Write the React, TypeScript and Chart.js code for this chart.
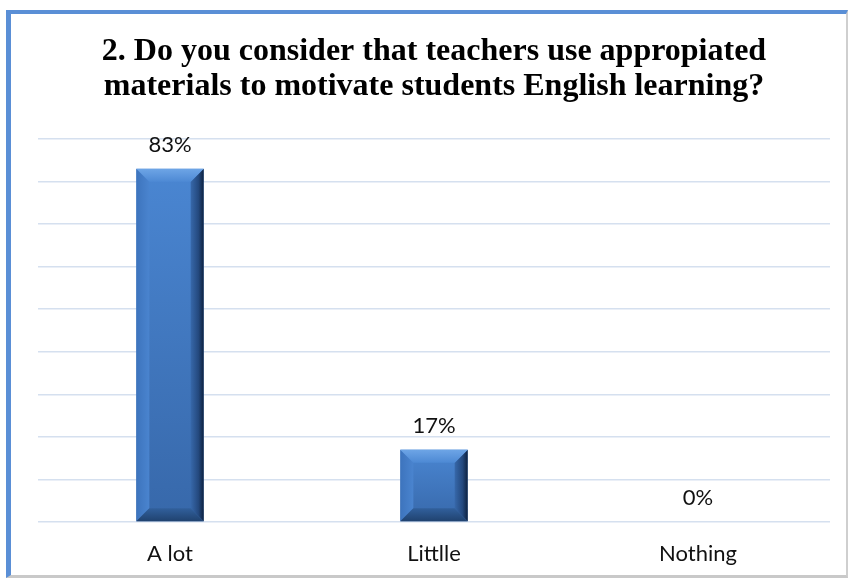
import React, { useEffect, useRef } from "react";
import { Chart, registerables } from "chart.js";

Chart.register(...registerables);

const titleLines = [
  "2. Do you consider that teachers use appropiated",
  "materials to motivate students English learning?",
];
const categories = ["A lot", "Littlle", "Nothing"];
const values = [83, 17, 0];
const valueLabels = ["83%", "17%", "0%"];
const axisMax = 90;
const axisStep = 10;

const bevelPlugin = {
  id: "bevelBars",
  afterDatasetsDraw(chart: any) {
    const ctx = chart.ctx;
    const meta = chart.getDatasetMeta(0);
    meta.data.forEach((bar: any, i: number) => {
      const l = bar.x - bar.width / 2;
      const r = bar.x + bar.width / 2;
      const t = bar.y;
      const bot = bar.base;
      const h = bot - t;
      if (h > 1) {
        const b = Math.min(13, h / 2, bar.width / 2);
        ctx.save();
        // body
        let g = ctx.createLinearGradient(0, t, 0, bot);
        g.addColorStop(0, "#4a86d2");
        g.addColorStop(1, "#3768aa");
        ctx.fillStyle = g;
        ctx.fillRect(l, t, r - l, h);
        // left bevel
        g = ctx.createLinearGradient(l, 0, l + b, 0);
        g.addColorStop(0, "#3d74bd");
        g.addColorStop(1, "#4a84cf");
        ctx.fillStyle = g;
        ctx.beginPath();
        ctx.moveTo(l, t);
        ctx.lineTo(l + b, t + b);
        ctx.lineTo(l + b, bot - b);
        ctx.lineTo(l, bot);
        ctx.closePath();
        ctx.fill();
        // right bevel
        g = ctx.createLinearGradient(r - b, 0, r, 0);
        g.addColorStop(0, "#3768aa");
        g.addColorStop(0.6, "#24497e");
        g.addColorStop(1, "#0e2240");
        ctx.fillStyle = g;
        ctx.beginPath();
        ctx.moveTo(r, t);
        ctx.lineTo(r, bot);
        ctx.lineTo(r - b, bot - b);
        ctx.lineTo(r - b, t + b);
        ctx.closePath();
        ctx.fill();
        // bottom bevel
        g = ctx.createLinearGradient(0, bot - b, 0, bot);
        g.addColorStop(0, "#31609c");
        g.addColorStop(1, "#20426f");
        ctx.fillStyle = g;
        ctx.beginPath();
        ctx.moveTo(l, bot);
        ctx.lineTo(r, bot);
        ctx.lineTo(r - b, bot - b);
        ctx.lineTo(l + b, bot - b);
        ctx.closePath();
        ctx.fill();
        // top bevel
        g = ctx.createLinearGradient(0, t, 0, t + b);
        g.addColorStop(0, "#6ea5e6");
        g.addColorStop(1, "#4d89d4");
        ctx.fillStyle = g;
        ctx.beginPath();
        ctx.moveTo(l, t);
        ctx.lineTo(r, t);
        ctx.lineTo(r - b, t + b);
        ctx.lineTo(l + b, t + b);
        ctx.closePath();
        ctx.fill();
        ctx.restore();
      }
      ctx.save();
      ctx.fillStyle = "#111";
      ctx.font = "22px Lato";
      ctx.textAlign = "center";
      ctx.textBaseline = "alphabetic";
      ctx.fillText(valueLabels[i], bar.x, t - 17);
      ctx.restore();
    });
  },
};

export default function App() {
  const ref = useRef<HTMLCanvasElement>(null);
  useEffect(() => {
    const chart = new Chart(ref.current!, {
      type: "bar",
      data: {
        labels: categories,
        datasets: [
          {
            data: values,
            backgroundColor: "rgba(0,0,0,0)",
            borderWidth: 0,
            categoryPercentage: 1,
            barPercentage: 0.255,
          },
        ],
      },
      options: {
        animation: false,
        responsive: false,
        maintainAspectRatio: false,
        layout: { padding: { left: 38, right: 18, top: 0, bottom: 0 } },
        plugins: {
          legend: { display: false },
          tooltip: { enabled: false },
          title: {
            display: true,
            text: titleLines,
            color: "#000",
            font: { family: "'Liberation Serif'", size: 32, weight: "bold", lineHeight: 1.094 },
            padding: { top: 34, bottom: 35 },
          },
        },
        scales: {
          x: {
            grid: { display: false },
            border: { display: false },
            ticks: { color: "#111", font: { family: "Lato", size: 22 }, padding: 11 },
            afterFit: (axis: any) => {
              axis.height = 56;
            },
          },
          y: {
            min: 0,
            max: axisMax,
            ticks: { display: false, stepSize: axisStep },
            grid: { color: "#d5e0ef", lineWidth: 1.5, drawTicks: false },
            border: { display: false },
            afterFit: (axis: any) => {
              axis.width = 0;
            },
          },
        },
      },
      plugins: [bevelPlugin],
    });
    return () => chart.destroy();
  }, []);

  return (
    <div style={{ position: "absolute", left: 0, top: 0, width: 848, height: 578, background: "#fff" }}>
      <div
        style={{
          position: "absolute",
          left: 6,
          top: 10,
          width: 835,
          height: 561,
          borderTop: "4px solid #5a8fd6",
          borderLeft: "5px solid #5a8fd6",
          borderRight: "2px solid #cfcfcf",
          borderBottom: "3px solid #c9c9c9",
        }}
      />
      <canvas ref={ref} width={848} height={578} style={{ position: "absolute", left: 0, top: 0 }} />
    </div>
  );
}
